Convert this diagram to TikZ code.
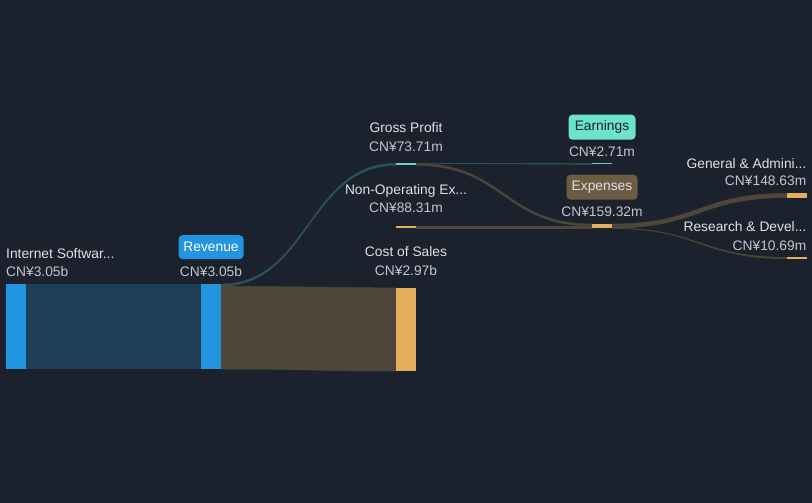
\documentclass[tikz,border=0pt]{standalone}
\usepackage{fontspec}
\setmainfont{Liberation Sans}
\usetikzlibrary{calc}
\definecolor{bg}{HTML}{1B212D}
\definecolor{barblue}{HTML}{2394DF}
\definecolor{linkblue}{HTML}{1E3E58}
\definecolor{barorange}{HTML}{E5AE5F}
\definecolor{linkbrown}{HTML}{4E4639}
\definecolor{barteal}{HTML}{5BD9C5}
\definecolor{linkteal}{HTML}{2A5453}
\definecolor{boxteal}{HTML}{6DE3CF}
\definecolor{boxbrown}{HTML}{6E5B44}
\definecolor{labeltxt}{HTML}{DEE1E5}
\definecolor{valuetxt}{HTML}{C3C7CD}
\newcommand\sankeyband[5]{%
  \filldraw[#5] let \p1=#1, \p2=#2, \p3=#3, \p4=#4, \n1={(\x1+\x3)/2} in
  (\p1) .. controls (\n1,\y1) and (\n1,\y3) .. (\p3) -- (\p4)
  .. controls (\n1,\y4) and (\n1,\y2) .. (\p2) -- cycle;}
\tikzset{
  bar/.style={rectangle, inner sep=0pt, outer sep=0pt, minimum width=20pt, anchor=north west},
  lbl/.style={text=labeltxt, font=\fontsize{13.8}{16}\selectfont, inner sep=0pt, anchor=base},
  val/.style={text=valuetxt, font=\fontsize{13.8}{16}\selectfont, inner sep=0pt, anchor=base},
  tag/.style={rounded corners=4pt, inner sep=0pt, font=\fontsize{13.8}{16}\selectfont},
  bandblue/.style={fill=linkblue, draw=linkblue, line width=0.3pt},
  bandteal/.style={fill=linkteal, draw=linkteal, line width=0.4pt},
  bandbrown/.style={fill=linkbrown, draw=linkbrown, line width=0.5pt},
}
\begin{document}
\begin{tikzpicture}[x=1pt,y=-1pt]
\fill[bg] (0,0) rectangle (812,503);
\useasboundingbox (0,0) rectangle (812,503);
% bars
\node[bar, fill=barblue, minimum height=85pt] (inet) at (6,284) {};
\node[bar, fill=barblue, minimum height=85pt] (rev) at (201,284) {};
\node[bar, fill=barorange, minimum height=83pt] (cos) at (396,288) {};
\node[bar, fill=barteal, minimum height=2.1pt] (gp) at (396,163.3) {};
\node[bar, fill=barorange, minimum height=2.4pt] (nonop) at (396,226) {};
\node[bar, fill=barteal, minimum height=1.1pt] (earn) at (592,163.3) {};
\node[bar, fill=barorange, minimum height=4.4pt] (exp) at (592,224) {};
\node[bar, fill=barorange, minimum height=4.2pt] (ga) at (787,193.4) {};
\node[bar, fill=barorange, minimum height=1.2pt] (rd) at (787,257.4) {};
% links
\fill[linkblue] (inet.north east) rectangle (rev.south west);
\sankeyband{(rev.north east)}{($(rev.north east)+(0,2.1)$)}{(gp.north west)}{(gp.south west)}{bandteal}
\sankeyband{($(rev.north east)+(0,2.1)$)}{(rev.south east)}{(cos.north west)}{(cos.south west)}{bandbrown}
\sankeyband{(gp.north east)}{($(gp.north east)+(0,0.1)$)}{(earn.north west)}{(earn.south west)}{bandteal}
\sankeyband{($(gp.north east)+(0,0.1)$)}{(gp.south east)}{(exp.north west)}{($(exp.north west)+(0,2)$)}{bandbrown}
\sankeyband{(nonop.north east)}{(nonop.south east)}{($(exp.north west)+(0,2)$)}{(exp.south west)}{bandbrown}
\sankeyband{(exp.north east)}{($(exp.north east)+(0,4.1)$)}{(ga.north west)}{(ga.south west)}{bandbrown}
\sankeyband{($(exp.north east)+(0,4.1)$)}{(exp.south east)}{(rd.north west)}{(rd.south west)}{bandbrown}
% redraw bars on top
\fill[barblue] (inet.north west) rectangle (inet.south east);
\fill[barblue] (rev.north west) rectangle (rev.south east);
\fill[barorange] (cos.north west) rectangle (cos.south east);
\fill[barteal] (gp.north west) rectangle (gp.south east);
\fill[barorange] (nonop.north west) rectangle (nonop.south east);
\fill[barteal] (earn.north west) rectangle (earn.south east);
\fill[barorange] (exp.north west) rectangle (exp.south east);
\fill[barorange] (ga.north west) rectangle (ga.south east);
\fill[barorange] (rd.north west) rectangle (rd.south east);
% labels
\node[lbl, anchor=base west] (inetl) at (6,258.3) {Internet Softwar...};
\node[val, anchor=base west] (inetv) at (6,276.7) {CN¥3.05b};
\node[tag, fill=barblue, text=white, minimum width=65pt, minimum height=24pt] (revtag) at (211,247.2) {Revenue};
\node[val] (revv) at (211,276.7) {CN¥3.05b};
\node[lbl] (cosl) at (406,256) {Cost of Sales};
\node[val] (cosv) at (406,275) {CN¥2.97b};
\node[lbl] (gpl) at (406,132) {Gross Profit};
\node[val] (gpv) at (406,151) {CN¥73.71m};
\node[lbl] (nonopl) at (406,194.5) {Non-Operating Ex...};
\node[val] (nonopv) at (406,212.5) {CN¥88.31m};
\node[tag, fill=boxteal, text=bg, minimum width=67pt, minimum height=25pt] (earntag) at (602,127.2) {Earnings};
\node[val] (earnv) at (602,156.5) {CN¥2.71m};
\node[tag, fill=boxbrown, text=labeltxt, minimum width=71pt, minimum height=25pt] (exptag) at (602,187.2) {Expenses};
\node[val] (expv) at (602,216.7) {CN¥159.32m};
\node[lbl, anchor=base east] (gal) at (806.5,168.3) {General \& Admini...};
\node[val, anchor=base east] (gav) at (806.5,185.5) {CN¥148.63m};
\node[lbl, anchor=base east] (rdl) at (806.5,231.7) {Research \& Devel...};
\node[val, anchor=base east] (rdv) at (806.5,250) {CN¥10.69m};
\end{tikzpicture}
\end{document}
